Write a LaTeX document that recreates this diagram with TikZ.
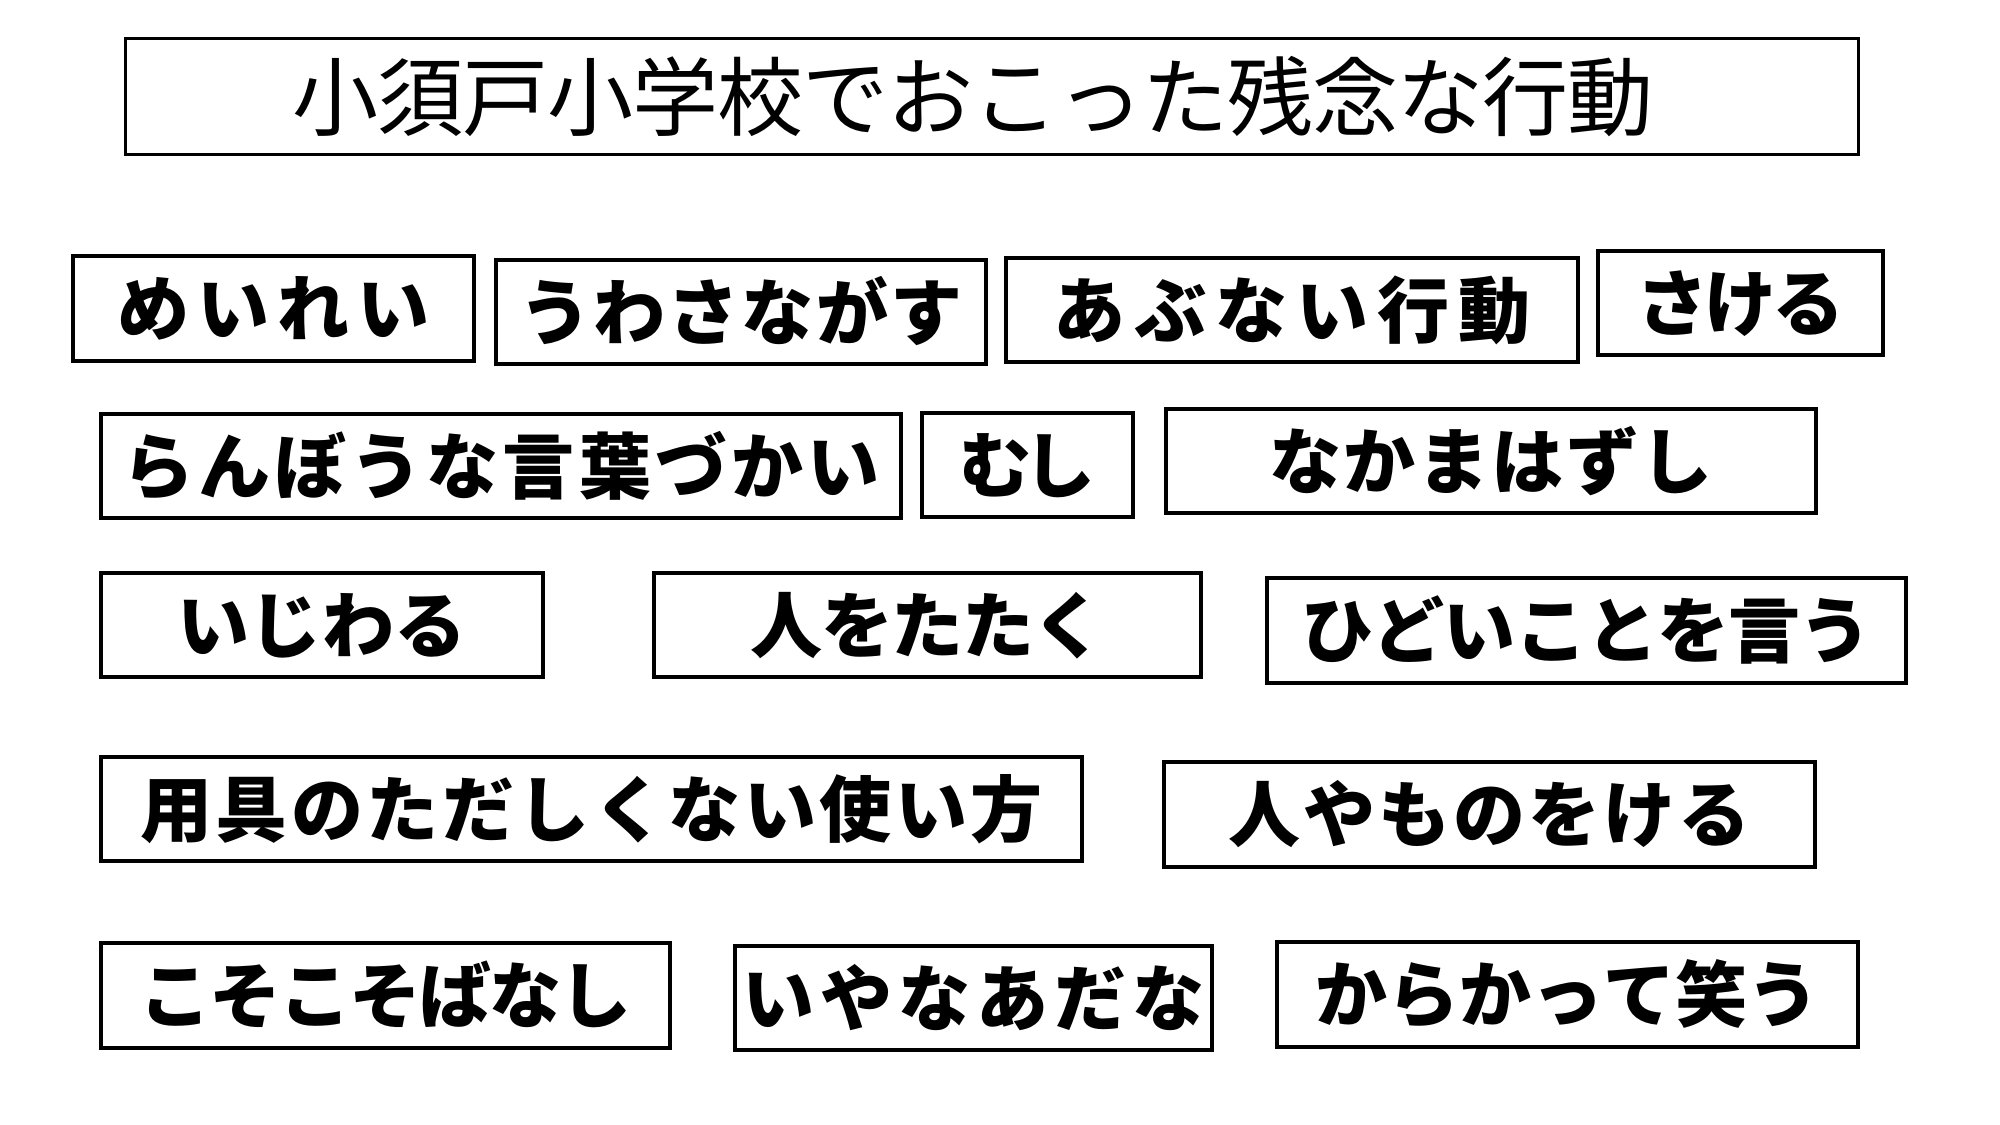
\documentclass[tikz,border=0pt]{standalone}
\usepackage{fontspec}
\newfontfamily\jpfont{Noto Sans CJK JP}
\newlength\lsp
\newlength\unitpx
\setlength\unitpx{0.01cm}
\def\spc#1#2{\setlength\lsp{#1\unitpx}\spcaux#2\relax}
\def\spcaux#1{\ifx#1\relax\unskip\else#1\hskip\lsp\relax\expandafter\spcaux\fi}
\tikzset{
  lbl/.style={draw, line width=0.9pt, inner sep=0pt, font=\jpfont\bfseries\fontsize{0.72cm}{0.86cm}\selectfont,
    text height=0.6cm, text depth=0.055cm},
  ttl/.style={draw, line width=0.9pt, inner sep=0pt, font=\jpfont\fontsize{0.86cm}{1cm}\selectfont,
    text height=0.72cm, text depth=0.06cm}
}
\newcommand\mylab[7]{%
  \pgfmathsetmacro\cx{(#2+#4)/2}\pgfmathsetmacro\cy{(#3+#5)/2}%
  \pgfmathsetmacro\bw{(#4-#2)*0.01}\pgfmathsetmacro\bh{(#5-#3)*0.01}%
  \node[lbl, minimum width=\bw cm, minimum height=\bh cm] (#1) at (\cx,\cy) {\spc{#6}{#7}};}
\begin{document}
\begin{tikzpicture}[x=0.01cm,y=-0.01cm]
\useasboundingbox (0,0) rectangle (2000,1125);
\node[ttl, minimum width=17.32cm, minimum height=1.16cm] (title) at (992,96.6) {\spc{-1}{小須戸小学校でおこった残念な行動}\kern0.38cm};
\mylab{t1}{73}{256}{474}{361}{8}{めいれい}
\mylab{t2}{496}{260}{986}{364}{2}{うわさながす}
\mylab{t3}{1006}{258}{1578}{362}{9}{あぶない行動}
\mylab{t4}{1598}{251}{1883}{355}{-4}{さける}
\mylab{t5}{101}{414}{901}{518}{4}{らんぼうな言葉づかい}
\mylab{t6}{922}{413}{1133}{517}{-8}{むし}
\mylab{t7}{1166}{409}{1816}{513}{2}{なかまはずし}
\mylab{t8}{101}{573}{543}{677}{0}{いじわる}
\mylab{t9}{654}{573}{1201}{677}{-1.5}{人をたたく}
\mylab{t10}{1267}{578}{1906}{683}{-1}{ひどいことを言う}
\mylab{t11}{101}{757}{1082}{861}{3.5}{用具のただしくない使い方}
\mylab{t12}{1164}{762}{1815}{867}{3}{人やものをける}
\mylab{t13}{101}{943}{670}{1048}{-2}{こそこそばなし}
\mylab{t14}{735}{946}{1212}{1050}{6}{いやなあだな}
\mylab{t15}{1277}{942}{1858}{1047}{0}{からかって笑う}
\end{tikzpicture}
\end{document}
